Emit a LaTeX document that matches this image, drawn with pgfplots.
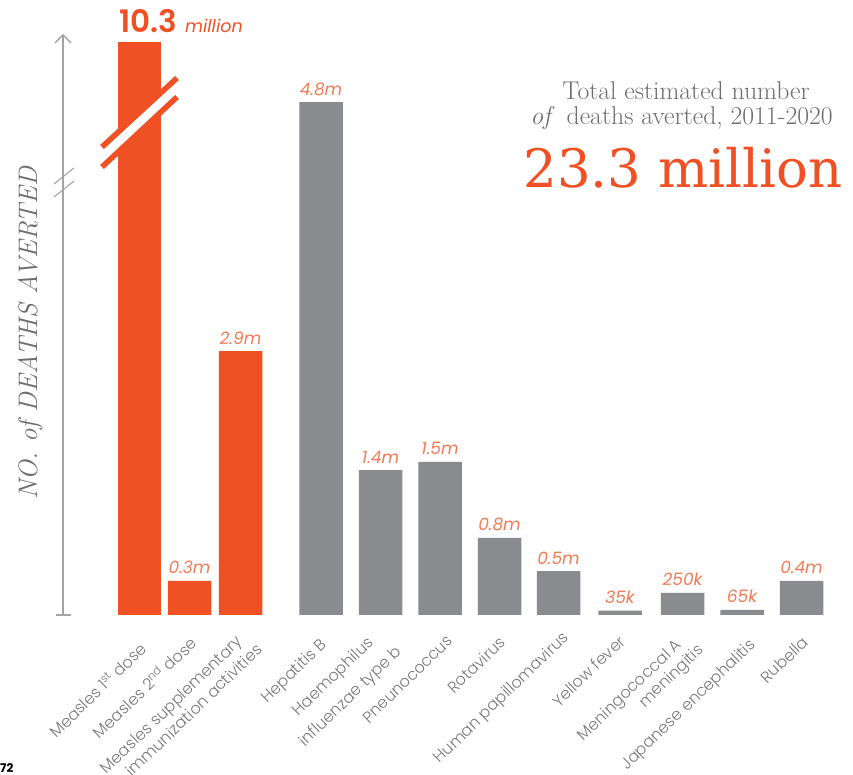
\documentclass[border=0pt]{standalone}
\usepackage{fontspec}
\usepackage{pgfplots}
\pgfplotsset{compat=1.18}

\newfontfamily\geo{Poppins}
\newfontfamily\geolight{Poppins}[UprightFont={* Light}]
\newfontfamily\geosemi{Poppins}[UprightFont={* SemiBold}]
\newfontfamily\slab{DejaVu Serif}

\definecolor{vorange}{HTML}{EF5125}
\definecolor{vgray}{HTML}{8A8B8E}
\definecolor{vlabel}{HTML}{F27B55}
\definecolor{cattext}{HTML}{7A7A7A}
\definecolor{headgray}{HTML}{6E6E6E}
\definecolor{axgray}{HTML}{A3A3A3}

\begin{document}
\begin{tikzpicture}
  % page background, 1px of the reference = 1pt
  \fill[white] (0,0) rectangle (853pt,775pt);

  % bar heights in millions, as drawn (107px per million, baseline 160px above the bottom)
  \begin{axis}[
    scale only axis,
    width=853pt, height=775pt,
    xmin=0, xmax=853,
    ymin=-1.4953, ymax=5.7477,
    hide axis, clip=false,
    ybar, bar width=43.5, bar shift=0pt,
    point meta=explicit symbolic,
    nodes near coords align={anchor=base},
    nodes near coords style={font=\geo\itshape\fontsize{17}{17}\selectfont,
      text=vlabel, yshift=7pt, inner sep=0pt},
    ]
    % measles 1st dose, 10.3 million, bar broken
    \addplot[fill=vorange, draw=none] coordinates {(139.5,5.355)};
    \addplot[fill=vorange, draw=none, nodes near coords] coordinates {
      (189.5,0.318)[0.3m]
      (240.5,2.467)[2.9m]
    };
    \addplot[fill=vgray, draw=none, nodes near coords] coordinates {
      (321,4.794)[4.8m]
      (380.5,1.355)[1.4m]
      (440,1.430)[1.5m]
      (499.5,0.720)[0.8m]
      (558.5,0.411)[0.5m]
      (620,0.042)[35k]
      (682.5,0.206)[250k]
      (742,0.047)[65k]
      (801.5,0.318)[0.4m]
    };
  \end{axis}

  \begin{scope}[shift={(0,775pt)}, x=1pt, y=-1pt]
    % vertical axis with arrow, foot and break
    \draw[axgray, line width=1.4pt] (63,615) -- (63,35);
    \draw[axgray, line width=1.4pt] (55,43) -- (63,35) -- (71,43);
    \draw[axgray, line width=1.4pt] (56,615) -- (71,615);
    \draw[axgray, line width=1.1pt] (54,184) -- (74,168);
    \draw[axgray, line width=1.1pt] (54,197) -- (74,181);

    % break on the first bar
    \fill[white] (102,147) -- (177,78) -- (177,97) -- (102,167) -- cycle;
    \draw[vorange, line width=5.5pt] (102,147) -- (177,78);
    \draw[vorange, line width=5.5pt] (102,167) -- (177,97);

    \node[anchor=base west, inner sep=0pt, text=vorange] at (119,33)
      {\geosemi\fontsize{31}{31}\selectfont 10.3\hspace{8pt}%
       \geo\itshape\fontsize{17.5}{17.5}\selectfont million};

    % header
    \node[anchor=base, inner sep=0pt, text=headgray, font=\fontsize{25.7}{26}\selectfont]
      at (686,100) {Total estimated number};
    \node[anchor=base, inner sep=0pt, text=headgray, font=\fontsize{25.7}{26}\selectfont]
      at (681.5,125) {\textit{of}\, deaths averted, 2011-2020};
    \node[anchor=base, inner sep=0pt, text=vorange, font=\slab\fontsize{53}{53}\selectfont]
      at (683,188) {23.3 million};

    % axis title
    \node[rotate=90, anchor=base, inner sep=0pt, text=headgray,
      font=\itshape\fontsize{26.8}{27}\selectfont] at (37,333.5)
      {NO. of DEATHS AVERTED};

    % category names, one node per line, placed at the end of each line
    \begin{scope}[every node/.style={anchor=north east, rotate=44,
        inner sep=0pt, text=cattext, font=\geolight\fontsize{16}{16}\selectfont}]
      \node at (138,640) {Measles 1\textsuperscript{st} dose};
      \node at (188,634) {Measles 2\textsuperscript{nd} dose};
      \node at (235,634) {Measles supplementary};
      \node at (255,642) {immunization activities};
      \node at (319,637) {Hepatitis B};
      \node at (366,635) {Haemophilus};
      \node at (394,644) {influenzae type b};
      \node at (446,634) {Pneunococcus};
      \node at (498,635) {Rotavirus};
      \node at (561,630) {Human papillomavirus};
      \node at (618,634) {Yellow fever};
      \node at (674,637) {Meningococcal A};
      \node at (696,642) {meningitis};
      \node at (748,637) {Japanese encephalitis};
      \node at (801,635) {Rubella};
    \end{scope}

    \node[anchor=base west, inner sep=0pt, font=\geo\bfseries\fontsize{12}{12}\selectfont]
      at (0,773) {72};
  \end{scope}

  \pgfresetboundingbox
  \path (0,0) rectangle (853pt,775pt);
\end{tikzpicture}
\end{document}
